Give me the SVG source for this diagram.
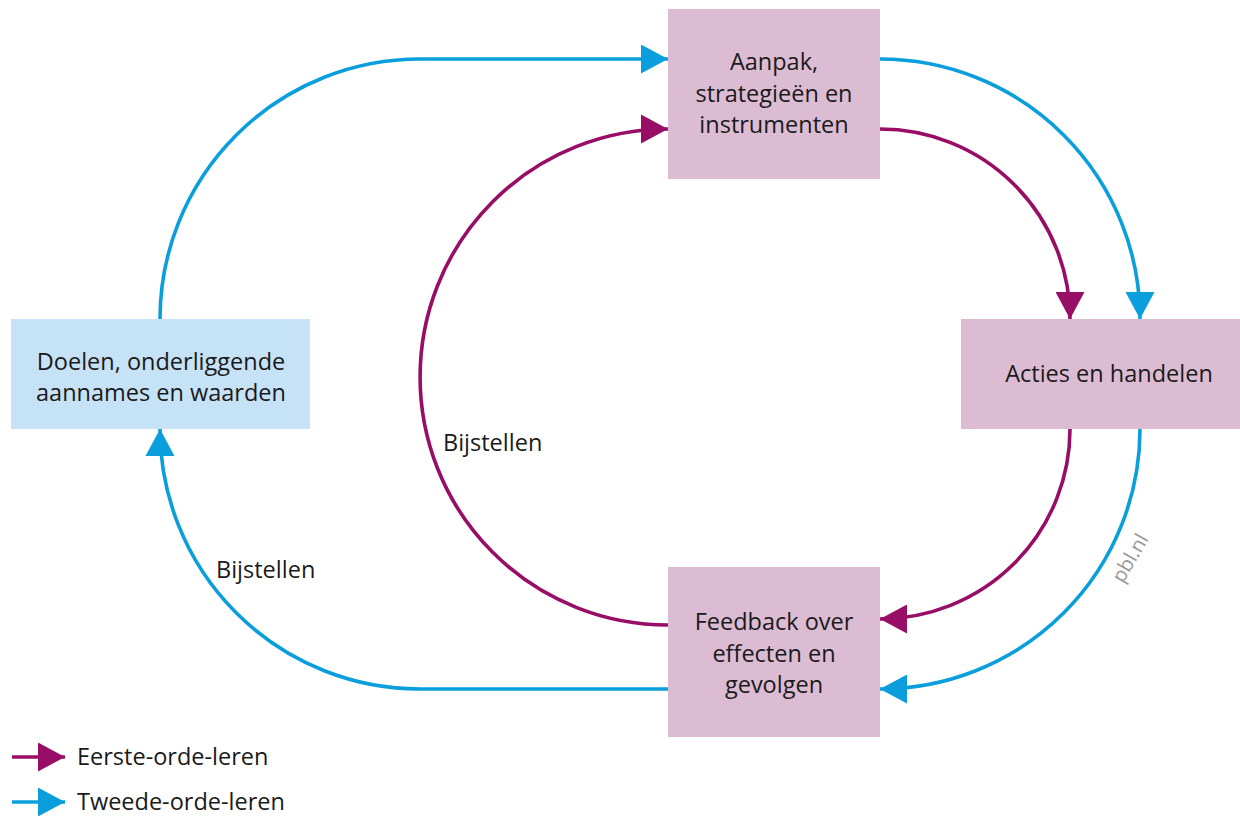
<svg xmlns="http://www.w3.org/2000/svg" width="1240" height="816" viewBox="0 0 1240 816">
<style>
.box-p{fill:#dcbcd3}
.box-b{fill:#c6e2f6}
.t{font-family:"Open Sans","Noto Sans",sans-serif;font-size:23.5px;fill:#1a1a1a;text-anchor:middle}
.tl{font-family:"Open Sans","Noto Sans",sans-serif;font-size:23.5px;fill:#1a1a1a}
.cb{fill:none;stroke:#0a9fdc;stroke-width:3.6}
.cp{fill:none;stroke:#980d66;stroke-width:3.6}
</style>
<defs>
<marker id="ab" viewBox="0 0 27 29" refX="27" refY="14.5" markerWidth="27" markerHeight="29" markerUnits="userSpaceOnUse" orient="auto"><path d="M0,0 L27,14.5 L0,29 z" fill="#0a9fdc"/></marker>
<marker id="ap" viewBox="0 0 27 29" refX="27" refY="14.5" markerWidth="27" markerHeight="29" markerUnits="userSpaceOnUse" orient="auto"><path d="M0,0 L27,14.5 L0,29 z" fill="#980d66"/></marker>
</defs>
<rect width="1240" height="816" fill="#ffffff"/>
<g id="connectors">
<path class="cb" d="M160,319 A260,260 0 0 1 420,59 H668" marker-end="url(#ab)"/>
<path class="cb" d="M880,59 A260,260 0 0 1 1140,319" marker-end="url(#ab)"/>
<path class="cp" d="M880,129 A190,190 0 0 1 1070,319" marker-end="url(#ap)"/>
<path class="cp" d="M1070,429 A190,190 0 0 1 880,619" marker-end="url(#ap)"/>
<path class="cb" d="M1140,429 A260,260 0 0 1 880,689" marker-end="url(#ab)"/>
<path class="cb" d="M668,689 H420 A260,260 0 0 1 160,429" marker-end="url(#ab)"/>
<path class="cp" d="M668,625 A248,248 0 0 1 668,129" marker-end="url(#ap)"/>
<text class="tl" x="443" y="451">Bijstellen</text>
<text class="tl" x="216" y="578">Bijstellen</text>
</g>
<g id="node-aanpak">
<rect class="box-p" x="668" y="9" width="212" height="170"/>
<text class="t" x="774" y="70">Aanpak,</text>
<text class="t" x="774" y="102">strategieën en</text>
<text class="t" x="774" y="133">instrumenten</text>
</g>
<g id="node-doelen">
<rect class="box-b" x="11" y="319" width="299" height="110"/>
<text class="t" x="161" y="370">Doelen, onderliggende</text>
<text class="t" x="161" y="401">aannames en waarden</text>
</g>
<g id="node-acties">
<rect class="box-p" x="961" y="319" width="279" height="110"/>
<text class="t" x="1109" y="382">Acties en handelen</text>
</g>
<g id="node-feedback">
<rect class="box-p" x="668" y="567" width="212" height="170"/>
<text class="t" x="774" y="630">Feedback over</text>
<text class="t" x="774" y="662">effecten en</text>
<text class="t" x="774" y="693">gevolgen</text>
</g>
<g id="legend">
<path class="cp" d="M12,757 H65" marker-end="url(#ap)"/>
<text class="tl" x="77" y="765">Eerste-orde-leren</text>
<path class="cb" d="M12,802 H65" marker-end="url(#ab)"/>
<text class="tl" x="77" y="810">Tweede-orde-leren</text>
</g>
<text x="1123" y="584" transform="rotate(-60 1123 584)" font-family="'Open Sans','Noto Sans',sans-serif" font-size="20" fill="#9a9a9a">pbl.nl</text>
</svg>
